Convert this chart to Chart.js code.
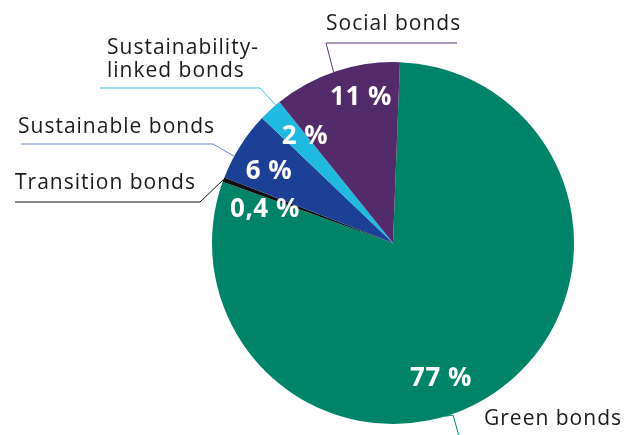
<!DOCTYPE html>
<html>
<head>
<meta charset="utf-8">
<script src="https://cdn.jsdelivr.net/npm/chart.js@4.4.1/dist/chart.umd.min.js"></script>
<style>
  html, body { margin: 0; padding: 0; background: #fff; }
  #wrap { width: 636px; height: 435px; position: relative; }
</style>
</head>
<body>
<div id="wrap"><canvas id="bondChart"></canvas></div>
<script>
// 채권 종류별 비중 (%)
const categories = ['Green bonds', 'Transition bonds', 'Sustainable bonds', 'Sustainability-linked bonds', 'Social bonds'];
const shares = [77, 0.4, 6, 2, 11];
const shareLabels = ['77 %', '0,4 %', '6 %', '2 %', '11 %'];
const sliceColors = ['#008468', '#111111', '#1b4096', '#20b9df', '#532b6b'];

// 바깥 라벨 (줄 단위), 지시선 색
const outerText = [['Green bonds'], ['Transition bonds'], ['Sustainable bonds'], ['Sustainability-', 'linked bonds'], ['Social bonds']];
const lineColors = ['#00846a', '#111111', '#6d86c2', '#3fc3e8', '#5b3474'];

// 라벨 배치: 글자 위치, 지시선 꺾임점, 조각 안 위치(t), 퍼센트 위치(중심 기준)
const layout = [
  { tx: 484, ty: 425, lines: [[459, 436], [453, 415]], t: 0.56, px: 48, py: 136 },
  { tx: 15, ty: 189, lines: [[15, 202], [200, 202]], t: 0.5, px: -128, py: -33 },
  { tx: 18, ty: 133, lines: [[21, 144], [213, 144]], t: 0.33, px: -124, py: -71 },
  { tx: 107, ty: 54, lines: [[100, 88], [260, 88]], t: 0.8, px: -88, py: -106 },
  { tx: 326, ty: 30, lines: [[457, 43], [326, 43]], t: 0.48, px: -32, py: -145 }
];

// 지시선 + 라벨 그리기
const labelPlugin = {
  id: 'bondLabels',
  afterDatasetsDraw(chart) {
    const ctx = chart.ctx;
    const arcs = chart.getDatasetMeta(0).data;
    ctx.save();
    arcs.forEach((arc, i) => {
      const L = layout[i];
      const a = arc.startAngle + (arc.endAngle - arc.startAngle) * L.t;
      const ex = arc.x + Math.cos(a) * arc.outerRadius;
      const ey = arc.y + Math.sin(a) * arc.outerRadius;

      ctx.strokeStyle = lineColors[i];
      ctx.lineWidth = 1;
      ctx.beginPath();
      ctx.moveTo(L.lines[0][0], L.lines[0][1]);
      for (let k = 1; k < L.lines.length; k++) ctx.lineTo(L.lines[k][0], L.lines[k][1]);
      ctx.lineTo(ex, ey);
      ctx.stroke();

      ctx.fillStyle = '#1a1a1a';
      ctx.font = '21px "Open Sans"';
      ctx.letterSpacing = '1px';
      ctx.textAlign = 'left';
      ctx.textBaseline = 'alphabetic';
      outerText[i].forEach((s, k) => ctx.fillText(s, L.tx, L.ty + k * 23));

      ctx.fillStyle = '#ffffff';
      ctx.font = 'bold 26px "Open Sans"';
      ctx.letterSpacing = '0.5px';
      ctx.textAlign = 'center';
      ctx.textBaseline = 'middle';
      ctx.fillText(shareLabels[i], arc.x + L.px, arc.y + L.py);
    });
    ctx.restore();
  }
};

new Chart(document.getElementById('bondChart'), {
  type: 'pie',
  data: {
    labels: categories,
    datasets: [{
      data: shares,
      backgroundColor: sliceColors,
      borderWidth: 0
    }]
  },
  options: {
    responsive: true,
    maintainAspectRatio: false,
    animation: false,
    rotation: 2.2,
    layout: { padding: { left: 212, right: 62, top: 62, bottom: 11 } },
    plugins: {
      legend: { display: false },
      tooltip: { enabled: false }
    }
  },
  plugins: [labelPlugin]
});
</script>
</body>
</html>
